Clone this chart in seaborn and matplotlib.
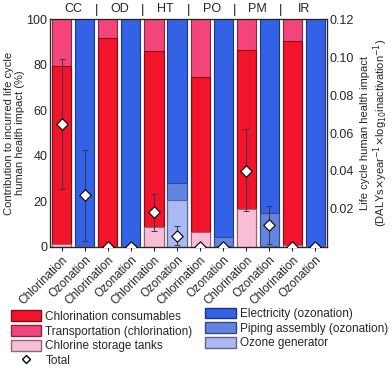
import numpy as np
import pandas as pd
import matplotlib
matplotlib.use("Agg")
import matplotlib.pyplot as plt
import matplotlib.colors as mcolors
from matplotlib.patches import Patch
from matplotlib.lines import Line2D
import seaborn as sns

# ---- data ----
groups = ["CC", "OD", "HT", "PO", "PM", "IR"]
methods = ["Chlorination", "Ozonation"]

# chlorination stack, bottom -> top (% contribution)
chl_tanks = [1.3, 0.0, 8.6, 6.4, 16.5, 0.9]
chl_consumables = [78.1, 91.5, 77.4, 68.1, 69.9, 89.5]
chl_transport = [20.6, 8.5, 14.0, 25.5, 13.6, 9.6]

# ozonation stack, bottom -> top (% contribution)
oz_generator = [0.2, 0.2, 20.6, 0.3, 0.3, 0.2]
oz_piping = [0.3, 0.3, 7.3, 3.9, 14.7, 0.3]
oz_electricity = [99.5, 99.5, 72.1, 95.8, 85.0, 99.5]

# totals (right axis) with error ranges
chl_total = [0.0646, 0.0, 0.0183, 0.0, 0.0401, 0.0]
chl_hi = [0.0988, 0.0, 0.0279, 0.0, 0.0621, 0.0]
chl_lo = [0.0305, 0.0, 0.0084, 0.0, 0.0191, 0.0]
oz_total = [0.0272, 0.0, 0.0060, 0.0, 0.0114, 0.0]
oz_hi = [0.0510, 0.0, 0.0110, 0.0, 0.0216, 0.0]
oz_lo = [0.0033, 0.0, 0.0010, 0.0, 0.0016, 0.0]

colors = {
    "Chlorination consumables": "#f2142a",
    "Transportation (chlorination)": "#f4457a",
    "Chlorine storage tanks": "#f9bdd8",
    "Electricity (ozonation)": "#3462e6",
    "Piping assembly (ozonation)": "#6484e4",
    "Ozone generator": "#aab8f4",
}

# ---- build long tables ----
order = [f"{g}-{m}" for g in groups for m in methods]
rows = []
for i, g in enumerate(groups):
    c1 = chl_tanks[i]
    c2 = c1 + chl_consumables[i]
    c3 = c2 + chl_transport[i]
    rows += [(f"{g}-Chlorination", 0, "Chlorine storage tanks", c1),
             (f"{g}-Chlorination", 1, "Chlorination consumables", c2),
             (f"{g}-Chlorination", 2, "Transportation (chlorination)", c3)]
    o1 = oz_generator[i]
    o2 = o1 + oz_piping[i]
    o3 = o2 + oz_electricity[i]
    rows += [(f"{g}-Ozonation", 0, "Ozone generator", o1),
             (f"{g}-Ozonation", 1, "Piping assembly (ozonation)", o2),
             (f"{g}-Ozonation", 2, "Electricity (ozonation)", o3)]
df = pd.DataFrame(rows, columns=["bar", "layer", "component", "cum"])

tot = pd.DataFrame({
    "bar": order,
    "total": [v for pair in zip(chl_total, oz_total) for v in pair],
    "hi": [v for pair in zip(chl_hi, oz_hi) for v in pair],
    "lo": [v for pair in zip(chl_lo, oz_lo) for v in pair],
})


def darker(c, f=0.55):
    return np.array(mcolors.to_rgb(c)) * f


sns.set_style("ticks")
plt.rcParams["font.family"] = ["Liberation Sans", "DejaVu Sans"]

fig = plt.figure(figsize=(3.92, 3.68), dpi=100)
ax = fig.add_axes([0.128, 0.329, 0.706, 0.619])

# draw tallest cumulative first so lower layers sit on top
for layer in [2, 1, 0]:
    sub = df[df["layer"] == layer]
    sns.barplot(data=sub, x="bar", y="cum", hue="component", order=order,
                palette=colors, dodge=False, width=0.83, legend=False,
                saturation=1, linewidth=0.8, ax=ax)

for p in ax.patches:
    p.set_edgecolor(darker(p.get_facecolor()))

ax.set_xlim(-0.5, len(order) - 0.5)
ax.set_ylim(0, 100)
ax.set_yticks([0, 20, 40, 60, 80, 100])
ax.set_xticks(range(len(order)))
ax.set_xticklabels([m for g in groups for m in methods], rotation=45,
                   ha="right", rotation_mode="anchor", fontsize=8.5)
ax.tick_params(axis="y", labelsize=9, length=0, pad=2)
ax.tick_params(axis="x", length=3, pad=2)
ax.set_xlabel("")
ax.set_ylabel("Contribution to incurred life cycle\nhuman health impact (%)",
              fontsize=8, labelpad=1, linespacing=1.1)
for s in ax.spines.values():
    s.set_color("#444444")
    s.set_linewidth(0.9)

# right axis: totals
ax2 = ax.twinx()
xpos = np.arange(len(order))
ax2.errorbar(xpos, tot["total"],
             yerr=[tot["total"] - tot["lo"], tot["hi"] - tot["total"]],
             fmt="none", ecolor="#3a3550", elinewidth=0.7, capsize=2,
             capthick=0.7, zorder=3)
sns.scatterplot(x=xpos, y=tot["total"], marker="D", s=34, color="white",
                edgecolor="black", linewidth=0.8, zorder=4, ax=ax2,
                clip_on=True)
ax2.set_ylim(0, 0.12)
ax2.set_yticks([0.02, 0.04, 0.06, 0.08, 0.10, 0.12])
ax2.set_yticklabels(["0.02", "0.04", "0.06", "0.08", "0.10", "0.12"])
ax2.tick_params(axis="y", labelsize=9, length=0, pad=2)
ax2.set_ylabel("Life cycle human health impact\n"
               r"(DALYs$\times$year$^{-1}$$\times$log$_{10}$inactivation$^{-1}$)",
               fontsize=8, labelpad=4, linespacing=1.1)
ax2.set_xlim(-0.5, len(order) - 0.5)

# group labels on top with separators
for i, g in enumerate(groups):
    ax.text(2 * i + 0.5, 102, g, ha="center", va="bottom", fontsize=9,
            clip_on=False)
    if i > 0:
        ax.text(2 * i - 0.5, 101.5, "|", ha="center", va="bottom",
                fontsize=9.5, clip_on=False)

# legends
left_items = ["Chlorination consumables", "Transportation (chlorination)",
              "Chlorine storage tanks"]
right_items = ["Electricity (ozonation)", "Piping assembly (ozonation)",
               "Ozone generator"]
h_left = [Patch(facecolor=colors[k], edgecolor=darker(colors[k]), label=k)
          for k in left_items]
h_left.append(Line2D([], [], marker="D", linestyle="none", markerfacecolor="white",
                     markeredgecolor="black", markersize=4.5, label="Total"))
h_right = [Patch(facecolor=colors[k], edgecolor=darker(colors[k]), label=k)
           for k in right_items]
leg_kw = dict(frameon=False, fontsize=8.5, handlelength=2.6, handleheight=1.05,
              handletextpad=0.35, labelspacing=0.18, borderaxespad=0.0,
              borderpad=0.3)
fig.legend(handles=h_left, loc="upper left", bbox_to_anchor=(0.018, 0.166),
           **leg_kw)
fig.legend(handles=h_right, loc="upper left", bbox_to_anchor=(0.515, 0.174),
           **leg_kw)

fig.savefig("out.png", dpi=100)
